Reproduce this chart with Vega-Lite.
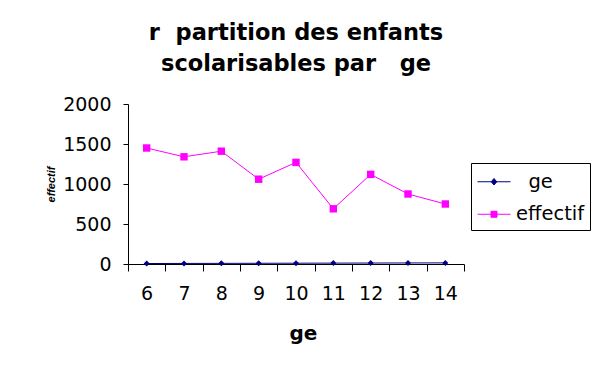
{
  "$schema": "https://vega.github.io/schema/vega-lite/v6.json",
  "width": 336,
  "height": 160,
  "autosize": {"type": "none"},
  "padding": {"left": 128, "top": 104, "right": 131, "bottom": 104},
  "background": "white",
  "title": {
    "text": ["r\u00a0\u00a0partition des enfants", "scolarisables par\u00a0\u00a0\u00a0ge"],
    "anchor": "middle",
    "frame": "group",
    "font": "DejaVu Sans",
    "fontSize": 22.5,
    "fontWeight": "bold",
    "color": "black",
    "lineHeight": 31,
    "offset": 20
  },
  "data": {
    "values": [
      {"age": 6, "serie": "\u200b\u00a0\u00a0ge", "valeur": 6},
      {"age": 7, "serie": "\u200b\u00a0\u00a0ge", "valeur": 7},
      {"age": 8, "serie": "\u200b\u00a0\u00a0ge", "valeur": 8},
      {"age": 9, "serie": "\u200b\u00a0\u00a0ge", "valeur": 9},
      {"age": 10, "serie": "\u200b\u00a0\u00a0ge", "valeur": 10},
      {"age": 11, "serie": "\u200b\u00a0\u00a0ge", "valeur": 11},
      {"age": 12, "serie": "\u200b\u00a0\u00a0ge", "valeur": 12},
      {"age": 13, "serie": "\u200b\u00a0\u00a0ge", "valeur": 13},
      {"age": 14, "serie": "\u200b\u00a0\u00a0ge", "valeur": 14},
      {"age": 6, "serie": "effectif", "valeur": 1450},
      {"age": 7, "serie": "effectif", "valeur": 1340},
      {"age": 8, "serie": "effectif", "valeur": 1410},
      {"age": 9, "serie": "effectif", "valeur": 1060},
      {"age": 10, "serie": "effectif", "valeur": 1270},
      {"age": 11, "serie": "effectif", "valeur": 690},
      {"age": 12, "serie": "effectif", "valeur": 1120},
      {"age": 13, "serie": "effectif", "valeur": 875},
      {"age": 14, "serie": "effectif", "valeur": 750}
    ]
  },
  "encoding": {
    "x": {
      "field": "age",
      "type": "ordinal",
      "scale": {"type": "band", "paddingInner": 0, "paddingOuter": 0},
      "title": "\u200b\u00a0\u00a0ge",
      "axis": {
        "labelAngle": 0,
        "labelFont": "DejaVu Sans",
        "labelFontSize": 19,
        "labelColor": "black",
        "labelPadding": 13,
        "tickBand": "extent",
        "tickSize": 7,
        "tickColor": "black",
        "domainColor": "black",
        "grid": false,
        "titleFont": "DejaVu Sans",
        "titleFontSize": 20,
        "titleFontWeight": "bold",
        "titleColor": "black",
        "titlePadding": 20
      }
    },
    "y": {
      "field": "valeur",
      "type": "quantitative",
      "scale": {"domain": [0, 2000]},
      "title": "effectif",
      "axis": {
        "values": [0, 500, 1000, 1500, 2000],
        "format": "d",
        "labelFont": "DejaVu Sans",
        "labelFontSize": 19,
        "labelColor": "black",
        "labelPadding": 12,
        "tickSize": 5,
        "tickColor": "black",
        "domainColor": "black",
        "grid": false,
        "titleFont": "Liberation Sans",
        "titleFontSize": 11,
        "titleFontWeight": "bold",
        "titleFontStyle": "italic",
        "titleColor": "black",
        "titlePadding": 6
      }
    }
  },
  "layer": [
    {
      "transform": [{"filter": "datum.serie !== 'effectif'"}],
      "mark": {"type": "line", "strokeWidth": 1, "color": "#000080"}
    },
    {
      "transform": [{"filter": "datum.serie === 'effectif'"}],
      "mark": {"type": "line", "strokeWidth": 1, "color": "#ff00ff"}
    },
    {
      "transform": [{"filter": "datum.serie !== 'effectif'"}],
      "mark": {"type": "point", "shape": "diamond", "filled": true, "opacity": 1, "size": 36, "color": "#000080"}
    },
    {
      "transform": [{"filter": "datum.serie === 'effectif'"}],
      "mark": {"type": "point", "shape": "square", "filled": true, "opacity": 1, "size": 55, "color": "#ff00ff"}
    },
    {
      "transform": [{"filter": "false"}],
      "mark": {"type": "point", "opacity": 1, "strokeWidth": 1},
      "encoding": {
        "fill": {
          "field": "serie", "type": "nominal",
          "scale": {"domain": ["\u200b\u00a0\u00a0ge", "effectif"], "range": ["#000080", "#ff00ff"]},
          "legend": {"orient": "none", "legendX": 343, "legendY": 59, "title": null}
        },
        "stroke": {
          "field": "serie", "type": "nominal",
          "scale": {"domain": ["\u200b\u00a0\u00a0ge", "effectif"], "range": ["#000080", "#ff00ff"]},
          "legend": {"orient": "none", "legendX": 343, "legendY": 59, "title": null}
        },
        "shape": {
          "field": "serie", "type": "nominal",
          "scale": {"domain": ["\u200b\u00a0\u00a0ge", "effectif"], "range": ["M-0.98,0H1.66M0.34,-0.26L0.56,0L0.34,0.26L0.12,0Z", "M-0.98,0H1.66M0.1,-0.24H0.58V0.24H0.1Z"]},
          "legend": {"orient": "none", "legendX": 343, "legendY": 59, "title": null}
        }
      }
    }
  ],
  "config": {
    "view": {"stroke": null},
    "legend": {
      "strokeColor": "black",
      "fillColor": "white",
      "padding": 5.75,
      "symbolSize": 625,
      "rowPadding": 9.5,
      "labelOffset": 13.25,
      "labelFont": "DejaVu Sans",
      "labelFontSize": 19.5,
      "labelColor": "black",
      "symbolStrokeWidth": 1,
      "symbolOpacity": 1
    }
  }
}
